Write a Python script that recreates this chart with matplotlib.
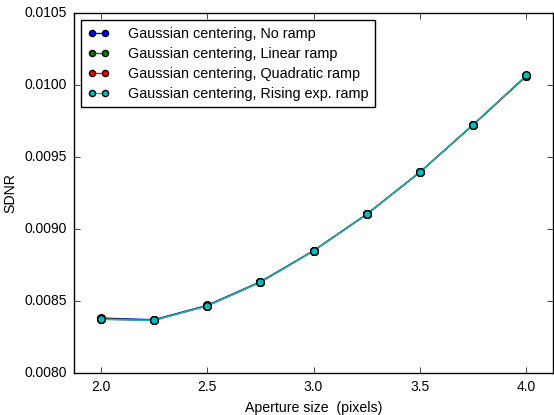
import matplotlib
matplotlib.use("Agg")
import matplotlib.pyplot as plt
import numpy as np

aperture = [2.0, 2.25, 2.5, 2.75, 3.0, 3.25, 3.5, 3.75, 4.0]
no_ramp = [0.008380, 0.008368, 0.008468, 0.008632, 0.008848, 0.009102, 0.009395, 0.009724, 0.010064]
linear_ramp = [0.008375, 0.008366, 0.008466, 0.008630, 0.008847, 0.009101, 0.009394, 0.009723, 0.010063]
quadratic_ramp = [0.008372, 0.008364, 0.008464, 0.008628, 0.008846, 0.009100, 0.009393, 0.009722, 0.010062]
rising_exp_ramp = [0.008371, 0.008363, 0.008464, 0.008628, 0.008846, 0.009100, 0.009394, 0.009724, 0.010068]

labels = ["Gaussian centering, No ramp",
          "Gaussian centering, Linear ramp",
          "Gaussian centering, Quadratic ramp",
          "Gaussian centering, Rising exp. ramp"]
colors = ['b', 'g', 'r', 'c']


def main():
    plt.style.use('classic')
    plt.rcParams['font.family'] = ['Liberation Sans', 'DejaVu Sans']
    plt.rcParams['font.size'] = 10

    fig = plt.figure(figsize=(5.54, 4.15), dpi=100, facecolor='white')
    ax = fig.add_axes([74 / 554, 42.3 / 415, 479 / 554, 359.7 / 415])

    for ys, lab, c in zip([no_ramp, linear_ramp, quadratic_ramp, rising_exp_ramp], labels, colors):
        ax.plot(aperture, ys, '-o', color=c, mfc=c, mec='k', mew=1.0, ms=5.5, lw=1.0, label=lab)

    yt = np.arange(0.0080, 0.01051, 0.0005)
    ax.set_xlim(1.875, 4.125)
    ax.set_ylim(0.0080, 0.0105)
    ax.set_xticks([2.0, 2.5, 3.0, 3.5, 4.0])
    ax.set_yticks(yt)
    ax.set_yticklabels([f"{v:.4f}" for v in yt])
    ax.tick_params(labelsize=10, pad=5)
    ax.set_xlabel('Aperture size  (pixels)', fontsize=10.2)
    ax.set_ylabel('SDNR', fontsize=10.2)
    ax.legend(loc='upper left', numpoints=2, fontsize=10.4, fancybox=False,
              handlelength=1.5, handletextpad=1.3, borderpad=0.45,
              labelspacing=0.42, markerscale=0.8, borderaxespad=0.5)

    fig.savefig('out.png', dpi=100, facecolor='white')
    return 0


if __name__ == '__main__':
    main()
